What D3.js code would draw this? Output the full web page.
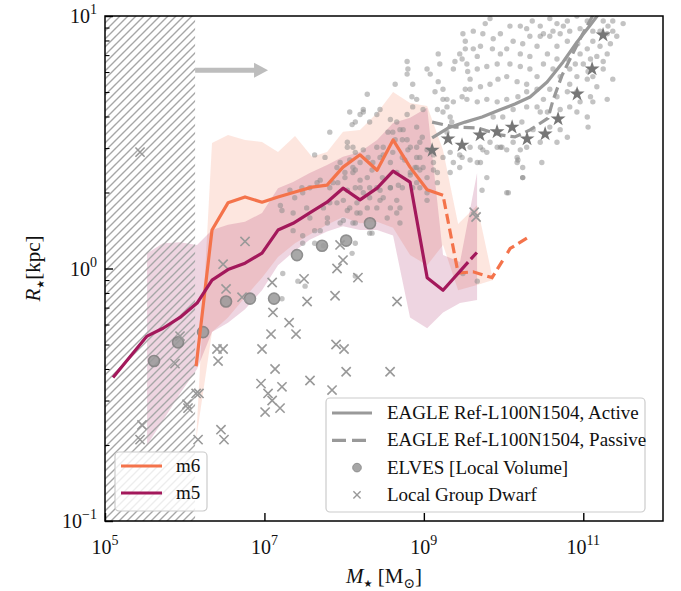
<!DOCTYPE html>
<html>
<head>
<meta charset="utf-8">
<script src="https://cdn.jsdelivr.net/npm/d3@7"></script>
<style>
  body { margin: 0; background: #fff; }
  svg text { font-family: "Liberation Serif", "Times New Roman", "DejaVu Serif", serif; fill: #111; }
</style>
</head>
<body>
<svg id="chart" width="681" height="591"></svg>
<script>
// ---------------- data ----------------
// simulation medians (stellar mass [Msun], half-mass radius [kpc])
const m6Mass = [1.39e6, 2.20e6, 3.49e6, 5.71e6, 9.33e6, 1.48e7, 2.42e7, 3.95e7, 6.10e7, 9.68e7, 1.58e8, 2.59e8, 4.11e8, 6.71e8, 1.10e9, 1.74e9];
const m6Size = [0.41, 1.42, 1.82, 1.92, 1.83, 1.92, 2.01, 2.10, 2.14, 2.52, 2.82, 2.45, 3.23, 2.52, 2.05, 1.95];
const m6TailMass = [1.74e9, 2.69e9, 4.14e9, 7.18e9, 1.21e10, 1.97e10];
const m6TailSize = [1.95, 0.96, 0.97, 0.92, 1.20, 1.32];

const m5Mass = [1.26e5, 3.37e5, 5.35e5, 8.73e5, 1.43e6, 2.20e6, 3.49e6, 5.71e6, 9.33e6, 1.48e7, 2.29e7, 3.70e7, 6.10e7, 9.68e7, 1.58e8, 2.59e8, 4.11e8, 6.71e8, 1.10e9, 1.74e9, 3.59e9];
const m5Size = [0.37, 0.54, 0.58, 0.64, 0.73, 0.90, 0.99, 1.05, 1.15, 1.42, 1.51, 1.66, 1.83, 2.08, 1.87, 2.08, 2.43, 2.20, 0.92, 0.82, 1.06];
const m5TailMass = [3.59e9, 4.65e9];
const m5TailSize = [1.06, 1.16];

// scatter envelopes
const m6BandMass = [1.39e6, 2.20e6, 3.49e6, 5.71e6, 9.33e6, 1.48e7, 2.42e7, 3.95e7, 6.10e7, 9.68e7, 1.58e8, 2.59e8, 4.11e8, 6.71e8, 1.10e9, 1.74e9, 2.69e9, 4.65e9, 7.38e9];
const m6BandHigh = [0.21, 3.14, 3.38, 3.23, 3.17, 2.89, 3.35, 2.77, 2.89, 3.48, 3.54, 4.13, 5.00, 4.52, 4.40, 2.94, 1.50, 1.78, 0.90];
const m6BandLow  = [0.21, 0.56, 0.64, 0.77, 0.92, 1.11, 1.26, 1.38, 1.49, 1.60, 1.51, 1.53, 1.45, 1.13, 1.03, 1.24, 0.82, 0.86, 0.90];

const m5BandMass = [3.37e5, 5.35e5, 8.73e5, 1.43e6, 2.20e6, 3.49e6, 5.71e6, 9.33e6, 1.48e7, 2.29e7, 3.70e7, 6.10e7, 9.68e7, 1.58e8, 2.59e8, 4.11e8, 6.71e8, 1.10e9, 1.74e9, 2.84e9, 4.65e9];
const m5BandHigh = [1.15, 1.26, 1.27, 1.24, 1.42, 1.49, 1.53, 1.66, 2.08, 2.20, 2.39, 2.57, 2.77, 2.89, 3.23, 3.77, 3.95, 4.33, 1.13, 1.06, 2.39];
const m5BandLow  = [0.20, 0.25, 0.32, 0.40, 0.56, 0.61, 0.69, 0.82, 1.03, 1.16, 1.30, 1.40, 1.47, 1.42, 1.42, 1.35, 0.64, 0.58, 0.67, 0.73, 0.75];

// EAGLE Ref-L100N1504 median relations
const eagleActiveMass = [1.27e9, 2.01e9, 3.29e9, 5.37e9, 9.04e9, 1.39e10, 2.15e10, 3.52e10, 5.58e10, 8.36e10, 1.22e11, 1.53e11];
const eagleActiveSize = [3.29, 3.60, 3.80, 3.98, 4.25, 4.48, 4.78, 5.48, 6.58, 7.89, 9.20, 10.1];
const eaglePassiveMass = [1.27e9, 2.46e9, 4.79e9, 9.04e9, 1.39e10, 2.15e10, 3.61e10, 4.18e10, 5.42e10, 7.23e10, 9.66e10, 1.33e11];
const eaglePassiveSize = [3.80, 3.63, 3.60, 3.38, 3.32, 3.54, 3.94, 4.65, 5.83, 7.01, 8.41, 10.1];

// binned passive galaxies (stars)
const eagleStarMass = [1.27e9, 2.01e9, 3.01e9, 5.07e9, 8.28e9, 1.28e10, 1.97e10, 3.32e10, 4.83e10, 8.36e10, 1.29e11, 1.77e11];
const eagleStarSize = [2.94, 3.26, 3.08, 3.38, 3.48, 3.63, 3.26, 3.41, 3.91, 4.91, 6.17, 8.41];

// individual EAGLE galaxies: [log10 M*, log10 R*]
const eagleGalaxies = [
  [8.79,0.82],[8.80,0.79],[9.18,0.85],[9.20,0.81],[9.45,0.85],[9.48,0.83],[9.52,0.87],[9.39,0.82],[9.37,0.79],[9.62,0.87],
  [9.67,0.84],[9.55,0.78],[9.58,0.75],[9.52,0.71],[9.18,0.74],[9.24,0.71],[9.14,0.70],[9.29,0.67],[9.29,0.64],[9.37,0.66],
  [9.48,0.68],[9.04,0.79],[9.08,0.77],[8.86,0.73],[8.79,0.77],[8.64,0.73],[8.29,0.69],[8.91,0.67],[8.86,0.64],[8.79,0.61],
  [8.85,0.68],[8.99,0.63],[9.17,0.63],[9.24,0.62],[9.33,0.60],[9.35,0.58],[9.29,0.54],[9.33,0.46],[9.37,0.42],[9.33,0.38],
  [8.45,0.63],[8.41,0.61],[8.24,0.63],[8.07,0.62],[8.10,0.57],[8.20,0.61],[7.82,0.54],[8.04,0.48],[8.14,0.46],[8.07,0.43],
  [7.95,0.42],[7.63,0.45],[7.76,0.44],[7.91,0.40],[8.01,0.38],[8.11,0.40],[8.20,0.35],[8.30,0.44],[8.35,0.39],[8.45,0.44],
  [8.49,0.48],[8.55,0.54],[8.66,0.58],[8.70,0.55],[8.64,0.51],[8.79,0.51],[8.80,0.47],[8.73,0.44],[8.91,0.48],[8.95,0.44],
  [8.89,0.40],[8.83,0.38],[8.99,0.40],[9.04,0.36],[9.12,0.39],[9.17,0.34],[8.95,0.32],[8.86,0.32],[8.68,0.33],[8.58,0.32],
  [8.45,0.31],[8.32,0.32],[8.24,0.30],[8.14,0.32],[8.04,0.31],[7.92,0.34],[7.82,0.32],[7.70,0.35],[7.57,0.32],[7.48,0.30],
  [7.38,0.28],
  [9.77,0.97],[9.83,0.99],[10.21,0.96],[10.36,0.98],[10.46,0.96],[10.58,0.99],[10.67,0.97],[10.80,0.98],[10.92,1.00],[11.05,0.98],
  [11.25,0.98],[11.37,0.98],[11.50,0.97],[11.31,0.96],[11.21,0.94],[11.42,0.92],[11.34,0.89],[11.21,0.88],[11.30,0.85],[11.25,0.82],
  [11.37,0.75],[11.09,0.83],[11.00,0.81],[11.06,0.78],[10.92,0.76],[10.83,0.73],[10.80,0.70],[10.67,0.68],[10.58,0.71],[10.71,0.76],
  [10.62,0.79],[10.50,0.81],[10.55,0.85],[10.42,0.88],[10.67,0.88],[10.80,0.90],[10.83,0.94],[10.71,0.93],[10.58,0.92],[10.50,0.93],
  [10.33,0.92],[10.24,0.89],[10.12,0.90],[10.04,0.87],[9.96,0.85],[9.86,0.87],[9.71,0.88],[9.54,0.81],[9.67,0.79],[9.79,0.80],
  [9.92,0.81],[10.08,0.81],[10.21,0.80],[10.33,0.79],[10.42,0.76],[10.29,0.73],[10.17,0.74],[10.04,0.76],[9.93,0.75],[9.83,0.73],
  [9.71,0.72],[9.58,0.71],[9.54,0.67],[9.67,0.66],[9.79,0.67],[9.92,0.66],[10.04,0.67],[10.18,0.68],[10.29,0.70],[10.42,0.71],
  [10.50,0.67],[10.42,0.64],[10.29,0.64],[10.12,0.63],[9.99,0.60],[9.87,0.60],[10.46,0.62],[10.55,0.62],[10.23,0.58],[10.37,0.55],
  [10.58,0.56],[10.71,0.55],[10.80,0.52],[11.05,0.60],[11.06,0.56],[10.46,0.50],[10.67,0.50],[10.29,0.48],[10.12,0.50],[9.98,0.48],
  [9.83,0.50],[9.71,0.48],[9.58,0.48],[9.79,0.46],[9.67,0.42],[10.18,0.43],[10.24,0.40],[10.48,0.42],[10.24,0.36],[10.06,0.30],
  [9.45,0.40],[9.48,0.44],[10.93,0.89],[11.05,0.87],[11.12,0.90],[11.17,0.84],[10.96,0.85],[11.12,0.76],[11.17,0.72],[10.92,0.70],
  [11.25,0.79],[11.30,0.93],[11.37,0.94],[11.12,0.94],[10.96,0.95],[10.75,0.96],[10.29,0.95],[10.08,0.96],[9.96,0.93],[9.87,0.91],
  [9.74,0.93],[9.62,0.94],[9.49,0.93],[9.52,0.90],[10.21,0.85],[10.33,0.84],[10.46,0.92],[10.62,0.94],[10.67,0.83],[10.80,0.83],
  [10.83,0.79],[10.90,0.81],[11.05,0.75],[11.30,0.67],[11.12,0.66],[10.96,0.66],[10.83,0.64],[10.71,0.63],[11.09,0.68],[10.92,0.62],
  [8.24,0.62],[8.14,0.58],[8.32,0.58],[8.58,0.59],[8.61,0.54],[8.74,0.55],[8.91,0.56],[8.98,0.52],[8.83,0.48],[8.61,0.46],
  [8.49,0.45],[8.41,0.48],[8.24,0.47],[8.11,0.48],[8.20,0.42],[8.36,0.42],[8.58,0.42],[8.76,0.43],[8.91,0.44],[9.04,0.47],
  [9.12,0.42],[8.11,0.38],[8.29,0.36],[8.48,0.36],[8.66,0.38],[8.83,0.37],[8.95,0.39],[8.20,0.32],[8.41,0.32],[8.58,0.32],
  [8.73,0.32],[8.91,0.34],[9.04,0.30],[8.32,0.28],[8.49,0.28],[8.66,0.27],[8.16,0.26],[8.41,0.24],[8.58,0.24],[8.70,0.24],
  [8.20,0.22],[8.70,0.18],[8.11,0.18],[8.10,0.06],[8.14,0.10],[8.32,0.14],[8.54,0.20],[9.24,0.67],[9.45,0.45],[9.58,0.43],
  [9.74,0.47],[9.92,0.48],[10.04,0.47],[10.17,0.44],[10.24,0.36],[10.17,0.42],[9.79,0.36],[9.73,0.31],
  [9.12,0.45],[9.24,0.44],[9.17,0.38],[9.71,0.42],[9.96,0.48],[10.21,0.47],[10.04,0.30],[8.91,0.40],[9.04,0.27],[8.73,0.51],
  [8.95,0.50],
  [7.23,-0.02],[7.42,-0.05],[7.51,-0.07],[7.22,-0.12],[7.79,0.20],[7.63,0.15],[7.48,0.13],[7.36,0.15],[7.82,0.26],[7.99,0.27],
  [8.07,0.24],[8.16,0.22],[8.29,0.24],[8.45,0.27],[8.66,0.22],[8.35,0.14],[7.95,0.18],[7.70,0.15],[7.74,0.09],[9.49,-0.02],
  [9.67,-0.05],
  [8.04,0.50],[8.14,0.39],[8.01,0.36],[7.86,0.34],[7.66,0.34],[7.47,0.32],[7.32,0.31],[7.20,0.25],[7.22,0.23],[7.36,0.22],
  [7.53,0.24],[7.74,0.24],[7.91,0.26],[8.04,0.23],[7.57,0.20],[7.79,0.18],[7.99,0.19],[8.14,0.18],[7.48,0.10],[7.63,0.10],
  [8.14,-0.03]
];

// ELVES [Local Volume]
const elvesMass = [4.12e5, 8.24e5, 1.70e6, 3.30e6, 6.59e6, 1.32e7, 2.56e7, 5.28e7, 1.06e8, 2.11e8];
const elvesSize = [0.43, 0.51, 0.56, 0.74, 0.76, 0.76, 1.13, 1.23, 1.29, 1.51];

// Local Group dwarfs
const lgMass = [2.75e5, 5.71e6, 3.03e6, 3.30e6, 5.24e6, 1.25e7, 1.28e7, 2.04e7, 1.21e7, 2.49e7,
                9.33e6, 2.54e6, 3.03e6, 2.62e6, 7.55e5, 8.73e5, 1.36e7, 8.89e7, 9.68e7, 8.14e7,
                1.49e8, 3.14e7, 7.69e7, 3.43e7, 4.61e8, 9.97e7, 7.91e7, 1.06e8, 3.77e8, 3.73e7,
                4.27e9, 4.52e9, 9.06e6, 1.66e7, 1.11e7, 1.25e7, 1.57e7, 1.02e7, 1.39e6, 1.51e6,
                2.85e6, 3.11e6, 7.05e7, 2.91e5, 2.75e5, 1.07e6, 1.10e6, 1.47e6];
const lgSize = [2.89, 1.28, 1.04, 0.83, 0.77, 0.88, 0.67, 0.61, 0.55, 0.55,
                0.48, 0.48, 0.48, 0.43, 0.42, 0.54, 0.40, 1.24, 1.08, 1.00,
                0.92, 0.91, 0.78, 0.74, 0.74, 0.48, 0.50, 0.39, 0.39, 0.36,
                1.67, 1.60, 0.35, 0.34, 0.32, 0.30, 0.28, 0.27, 0.32, 0.32,
                0.23, 0.21, 0.33, 0.24, 0.21, 0.29, 0.28, 0.21];

// resolution limit and axis ticks
const resolutionLimit = 1.35e6;
const arrowSpan = [1.35e6, 1.11e7];
const arrowLevel = 6.1;
const xTickExp = [5, 7, 9, 11];
const yTickExp = [-1, 0, 1];
const yMinor = [0.2, 0.3, 0.4, 0.5, 0.6, 0.7, 0.8, 0.9, 2, 3, 4, 5, 6, 7, 8, 9];

// ---------------- styles ----------------
const C6 = "#f4734b", C5 = "#a3185b", GREY = "#999999";

// ---------------- chart ----------------
const svg = d3.select("#chart");
const box = { l: 105, t: 16, r: 663, b: 521 };
const x = d3.scaleLog().domain([1e5, 1e12]).range([box.l, box.r]);
const y = d3.scaleLog().domain([0.1, 10]).range([box.b, box.t]);

const defs = svg.append("defs");
defs.append("clipPath").attr("id", "plotArea").append("rect")
  .attr("x", box.l).attr("y", box.t).attr("width", box.r - box.l).attr("height", box.b - box.t);
const pat = defs.append("pattern").attr("id", "hatch").attr("patternUnits", "userSpaceOnUse")
  .attr("width", 8).attr("height", 8);
pat.append("path").attr("d", "M-2,2 L2,-2 M0,8 L8,0 M6,10 L10,6")
  .attr("stroke", "#a6a6a6").attr("stroke-width", 1.4);

const plot = svg.append("g").attr("clip-path", "url(#plotArea)");
const zip = (a, b) => a.map((v, i) => [v, b[i]]);
const line = d3.line().x(d => x(d[0])).y(d => y(d[1]));
const area = d3.area().x(d => x(d[0])).y0(d => y(d[1])).y1(d => y(d[2]));

// envelopes
plot.append("path").datum(m6BandMass.map((m, i) => [m, m6BandLow[i], m6BandHigh[i]]))
  .attr("d", area).attr("fill", C6).attr("fill-opacity", 0.18);
plot.append("path").datum(m5BandMass.map((m, i) => [m, m5BandLow[i], m5BandHigh[i]]))
  .attr("d", area).attr("fill", C5).attr("fill-opacity", 0.18);

// unresolved mass range
plot.append("rect").attr("x", x(1e5)).attr("y", box.t)
  .attr("width", x(resolutionLimit) - x(1e5)).attr("height", box.b - box.t)
  .attr("fill", "url(#hatch)");

// EAGLE galaxies
plot.append("g").selectAll("circle").data(eagleGalaxies).join("circle")
  .attr("cx", d => x(10 ** d[0])).attr("cy", d => y(10 ** d[1])).attr("r", 2.7)
  .attr("fill", "#888888").attr("fill-opacity", 0.5);

plot.append("path").datum(zip(eagleActiveMass, eagleActiveSize)).attr("d", line)
  .attr("fill", "none").attr("stroke", GREY).attr("stroke-width", 3.2).attr("stroke-linejoin", "round");
plot.append("path").datum(zip(eaglePassiveMass, eaglePassiveSize)).attr("d", line)
  .attr("fill", "none").attr("stroke", GREY).attr("stroke-width", 3.2).attr("stroke-dasharray", "11,5");

const star = d3.symbol().type(d3.symbolStar).size(70);
plot.append("g").selectAll("path").data(zip(eagleStarMass, eagleStarSize)).join("path")
  .attr("d", star).attr("transform", d => `translate(${x(d[0])},${y(d[1])})`)
  .attr("fill", "#777");

// ELVES
plot.append("g").selectAll("circle").data(zip(elvesMass, elvesSize)).join("circle")
  .attr("cx", d => x(d[0])).attr("cy", d => y(d[1])).attr("r", 5.5)
  .attr("fill", "#9a9a9a").attr("stroke", "#7c7c7c").attr("stroke-width", 1.6).attr("opacity", 0.85);

// Local Group dwarfs
const cross = s => `M${-s},${-s}L${s},${s}M${-s},${s}L${s},${-s}`;
plot.append("g").selectAll("path").data(zip(lgMass, lgSize)).join("path")
  .attr("d", cross(4.6)).attr("transform", d => `translate(${x(d[0])},${y(d[1])})`)
  .attr("stroke", GREY).attr("stroke-width", 1.6).attr("fill", "none");

// simulation medians
plot.append("path").datum(zip(m6Mass, m6Size)).attr("d", line)
  .attr("fill", "none").attr("stroke", C6).attr("stroke-width", 3.2).attr("stroke-linejoin", "round");
plot.append("path").datum(zip(m6TailMass, m6TailSize)).attr("d", line)
  .attr("fill", "none").attr("stroke", C6).attr("stroke-width", 3.2).attr("stroke-dasharray", "0,4,10,5,10,5,10,5,10,5,10,5,10,5,10,5,10,5,10,5");
plot.append("path").datum(zip(m5Mass, m5Size)).attr("d", line)
  .attr("fill", "none").attr("stroke", C5).attr("stroke-width", 3.2).attr("stroke-linejoin", "round");
plot.append("path").datum(zip(m5TailMass, m5TailSize)).attr("d", line)
  .attr("fill", "none").attr("stroke", C5).attr("stroke-width", 3.2).attr("stroke-dasharray", "0,4,9,20");

// arrow pointing to resolved masses
const ax0 = x(arrowSpan[0]), ax1 = x(arrowSpan[1]), ay = y(arrowLevel);
svg.append("line").attr("x1", ax0).attr("x2", ax1 - 13).attr("y1", ay).attr("y2", ay)
  .attr("stroke", "#bdbdbd").attr("stroke-width", 5);
svg.append("path").attr("d", `M${ax1 - 14},${ay - 7.5}L${ax1},${ay}L${ax1 - 14},${ay + 7.5}Z`)
  .attr("fill", "#bdbdbd");

// ---------------- axes ----------------
const xAxis = svg.append("g").attr("transform", `translate(0,${box.b})`)
  .call(d3.axisBottom(x).tickValues(xTickExp.map(e => 10 ** e)).tickSize(-8).tickSizeOuter(0).tickFormat(""));
xAxis.select(".domain").remove();
xAxis.selectAll(".tick line").attr("stroke", "#000").attr("stroke-width", 1.4);

const yAxis = svg.append("g").attr("transform", `translate(${box.l},0)`)
  .call(d3.axisLeft(y).tickValues(yTickExp.map(e => 10 ** e)).tickSize(-8).tickSizeOuter(0).tickFormat(""));
yAxis.select(".domain").remove();
yAxis.selectAll(".tick line").attr("stroke", "#000").attr("stroke-width", 1.4);
const yAxisMinor = svg.append("g").attr("transform", `translate(${box.l},0)`)
  .call(d3.axisLeft(y).tickValues(yMinor).tickSize(-4.5).tickSizeOuter(0).tickFormat(""));
yAxisMinor.select(".domain").remove();
yAxisMinor.selectAll(".tick line").attr("stroke", "#000").attr("stroke-width", 1.1);

const sup = (sel, e) => {
  sel.append("tspan").text("10");
  sel.append("tspan").attr("dy", -9).attr("font-size", 14).text(e < 0 ? "\u2212" + (-e) : String(e));
};
xTickExp.forEach(e => {
  svg.append("text").attr("x", x(10 ** e)).attr("y", 554).attr("text-anchor", "middle")
    .attr("font-size", 20).call(sup, e);
});
yTickExp.forEach(e => {
  svg.append("text").attr("x", 97).attr("y", y(10 ** e) + 7).attr("text-anchor", "end")
    .attr("font-size", 20).call(sup, e);
});

// frame
svg.append("rect").attr("x", box.l).attr("y", box.t).attr("width", box.r - box.l).attr("height", box.b - box.t)
  .attr("fill", "none").attr("stroke", "#000").attr("stroke-width", 1.5);

// axis titles (star subscript drawn with a filled star glyph)
const starFont = "DejaVu Sans, sans-serif";
const xt = svg.append("text").attr("x", (box.l + box.r) / 2).attr("y", 583).attr("text-anchor", "middle").attr("font-size", 21);
xt.append("tspan").attr("font-style", "italic").text("M");
xt.append("tspan").attr("dy", 4).attr("font-size", 10).style("font-family", starFont).text("\u2605");
xt.append("tspan").attr("dy", -4).text(" [M");
xt.append("tspan").attr("dy", 5).attr("font-size", 14).text("\u2299");
xt.append("tspan").attr("dy", -5).text("]");

const yt = svg.append("text").attr("transform", `translate(40,${(box.t + box.b) / 2}) rotate(-90)`)
  .attr("text-anchor", "middle").attr("font-size", 21);
yt.append("tspan").attr("font-style", "italic").text("R");
yt.append("tspan").attr("dy", 4).attr("font-size", 10).style("font-family", starFont).text("\u2605");
yt.append("tspan").attr("dy", -4).text("[kpc]");

// ---------------- legends ----------------
const simLegend = [
  { label: "m6", color: C6 },
  { label: "m5", color: C5 }
];
const lg1 = svg.append("g");
lg1.append("rect").attr("x", 115).attr("y", 452).attr("width", 92).attr("height", 59).attr("rx", 4)
  .attr("fill", "#fff").attr("fill-opacity", 0.8).attr("stroke", "#cccccc").attr("stroke-width", 1.2);
simLegend.forEach((d, i) => {
  const yy = 466 + i * 27;
  lg1.append("line").attr("x1", 121).attr("x2", 162).attr("y1", yy).attr("y2", yy)
    .attr("stroke", d.color).attr("stroke-width", 3.2);
  lg1.append("text").attr("x", 176).attr("y", yy + 6).attr("font-size", 19).text(d.label);
});

const obsLegend = [
  { label: "EAGLE Ref-L100N1504, Active", kind: "solid" },
  { label: "EAGLE Ref-L100N1504, Passive", kind: "dash" },
  { label: "ELVES [Local Volume]", kind: "dot" },
  { label: "Local Group Dwarf", kind: "cross" }
];
const lg2 = svg.append("g");
lg2.append("rect").attr("x", 326).attr("y", 398).attr("width", 319).attr("height", 114).attr("rx", 4)
  .attr("fill", "#fff").attr("fill-opacity", 0.8).attr("stroke", "#cccccc").attr("stroke-width", 1.2);
obsLegend.forEach((d, i) => {
  const yy = 413 + i * 27.3;
  if (d.kind === "solid" || d.kind === "dash") {
    lg2.append("line").attr("x1", 332).attr("x2", 372).attr("y1", yy).attr("y2", yy)
      .attr("stroke", GREY).attr("stroke-width", 3.2)
      .attr("stroke-dasharray", d.kind === "dash" ? "14,6" : null);
  } else if (d.kind === "dot") {
    lg2.append("circle").attr("cx", 357).attr("cy", yy).attr("r", 4.3)
      .attr("fill", "#a6a6a6").attr("stroke", "#909090").attr("stroke-width", 1);
  } else {
    lg2.append("path").attr("d", cross(3.6)).attr("transform", `translate(357,${yy})`)
      .attr("stroke", GREY).attr("stroke-width", 1.4);
  }
  lg2.append("text").attr("x", 387).attr("y", yy + 6).attr("font-size", 19).text(d.label);
});
</script>
</body>
</html>
